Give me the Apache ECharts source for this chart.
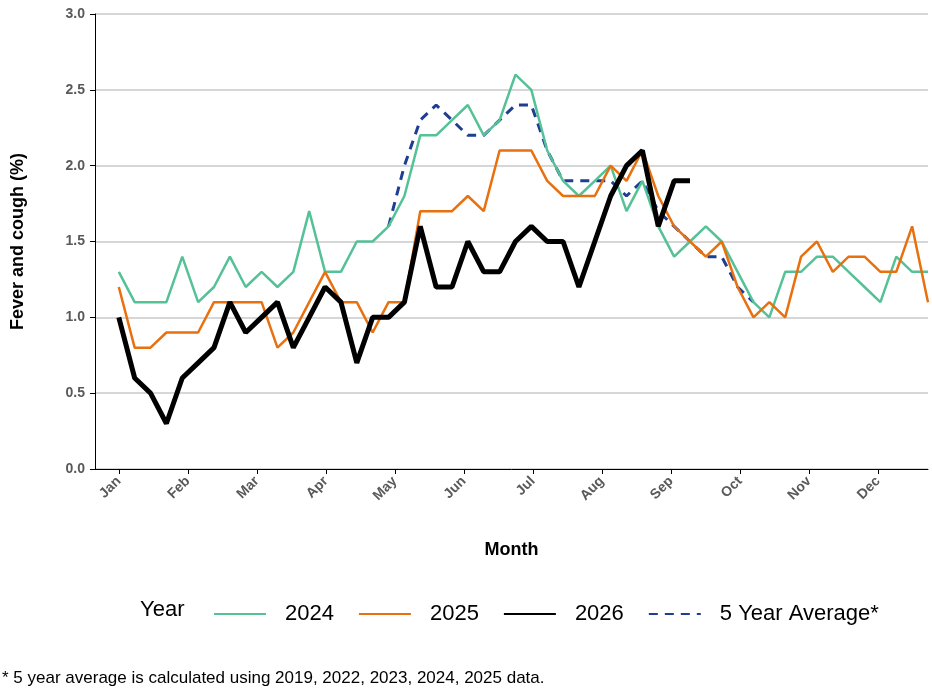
<!DOCTYPE html>
<html><head><meta charset="utf-8">
<script src="https://cdn.jsdelivr.net/npm/echarts@6/dist/echarts.min.js"></script>
<style>html,body{margin:0;padding:0;background:#fff}#c{width:932px;height:694px}</style>
</head><body><div id="c"></div>
<script>
const months = ['Jan','Feb','Mar','Apr','May','Jun','Jul','Aug','Sep','Oct','Nov','Dec'];
const monthWeek = [0,4.35,8.7,13.05,17.4,21.75,26.1,30.45,34.8,39.15,43.5,47.85];
const y2024 = [1.3,1.1,1.1,1.1,1.4,1.1,1.2,1.4,1.2,1.3,1.2,1.3,1.7,1.3,1.3,1.5,1.5,1.6,1.8,2.2,2.2,2.3,2.4,2.2,2.3,2.6,2.5,2.1,1.9,1.8,1.9,2.0,1.7,1.9,1.6,1.4,1.5,1.6,1.5,1.3,1.1,1.0,1.3,1.3,1.4,1.4,1.3,1.2,1.1,1.4,1.3,1.3];
const y2025 = [1.2,0.8,0.8,0.9,0.9,0.9,1.1,1.1,1.1,1.1,0.8,0.9,1.1,1.3,1.1,1.1,0.9,1.1,1.1,1.7,1.7,1.7,1.8,1.7,2.1,2.1,2.1,1.9,1.8,1.8,1.8,2.0,1.9,2.1,1.8,1.6,1.5,1.4,1.5,1.2,1.0,1.1,1.0,1.4,1.5,1.3,1.4,1.4,1.3,1.3,1.6,1.1];
const y2026 = [1.0,0.6,0.5,0.3,0.6,0.7,0.8,1.1,0.9,1.0,1.1,0.8,1.0,1.2,1.1,0.7,1.0,1.0,1.1,1.6,1.2,1.2,1.5,1.3,1.3,1.5,1.6,1.5,1.5,1.2,1.5,1.8,2.0,2.1,1.6,1.9,1.9];
const avgStart = 17;
const y5yr = [1.6,2.0,2.3,2.4,2.3,2.2,2.2,2.3,2.4,2.4,2.1,1.9,1.9,1.9,1.9,1.8,1.9,1.7,1.6,1.5,1.4,1.4,1.2,1.1];

const pts = (arr, s=0) => arr.map((v,i)=>[i+s,v]);
const chart = echarts.init(document.getElementById('c'));
const FF = 'Liberation Sans, Arial, sans-serif';
const lab = {color:'#595959', fontWeight:'bold', fontSize:14, fontFamily:FF};
chart.setOption({
  animation:false,
  grid:{left:95,right:4,top:14,bottom:225},
  xAxis:{type:'value',min:-1.5,max:51,
    name:'Month',nameLocation:'middle',nameGap:72,
    nameTextStyle:{fontWeight:'bold',fontSize:18,color:'#000',fontFamily:FF},
    axisLine:{show:true,lineStyle:{color:'#000',width:1}},
    axisTick:{show:true,customValues:monthWeek,length:5,lineStyle:{color:'#000'}},
    splitLine:{show:false},
    axisLabel:Object.assign({customValues:monthWeek,rotate:45,margin:10,
      formatter:v=>{const k=monthWeek.findIndex(m=>Math.abs(m-v)<0.01);return k>=0?months[k]:'';}},lab)},
  yAxis:{type:'value',min:0,max:3,interval:0.5,
    name:'Fever and cough (%)',nameLocation:'middle',nameGap:68,
    nameTextStyle:{fontWeight:'bold',fontSize:18,color:'#000',fontFamily:FF},
    axisLine:{show:true,onZero:false,lineStyle:{color:'#000',width:1}},
    axisTick:{show:true,length:5,lineStyle:{color:'#000'}},
    splitLine:{lineStyle:{color:'#c8c8c8',width:1.5}},
    axisLabel:Object.assign({formatter:v=>v.toFixed(1),margin:10},lab)},
  legend:{left:208,top:598,itemWidth:52,itemHeight:4,itemGap:24,
    itemStyle:{opacity:0},
    textStyle:{fontSize:22,color:'#000',fontFamily:FF,padding:[0,0,0,14]},
    data:['2024','2025','2026','5 Year Average*']},
  graphic:[
    {type:'text',left:140,top:599,style:{text:'Year',fontSize:22,fill:'#000',fontFamily:FF}},
    {type:'text',left:2,top:670,style:{text:'* 5 year average is calculated using 2019, 2022, 2023, 2024, 2025 data.',fontSize:17,fill:'#000',fontFamily:FF}}
  ],
  series:[
    {name:'2024',type:'line',data:pts(y2024),symbol:'none',lineStyle:{color:'#55c196',width:2.5},itemStyle:{color:'#55c196'}},
    {name:'2025',type:'line',data:pts(y2025),symbol:'none',lineStyle:{color:'#e8700e',width:2.5},itemStyle:{color:'#e8700e'}},
    {name:'2026',type:'line',data:pts(y2026),symbol:'none',lineStyle:{color:'#000',width:5},itemStyle:{color:'#000'}},
    {name:'5 Year Average*',type:'line',data:pts(y5yr,avgStart),symbol:'none',z:1,lineStyle:{color:'#1f3e93',width:3,type:[9,7]},itemStyle:{color:'#1f3e93'}}
  ]
});
</script></body></html>
